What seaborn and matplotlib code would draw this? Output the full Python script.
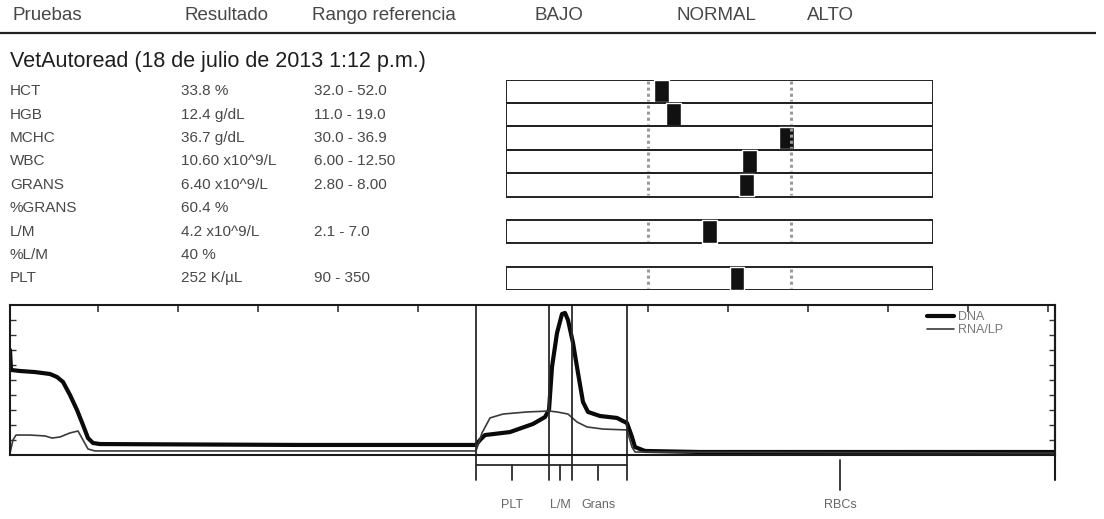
import numpy as np
import pandas as pd
import matplotlib
matplotlib.use("Agg")
import matplotlib.pyplot as plt
import seaborn as sns
from matplotlib.lines import Line2D

# ---------------- data ----------------
header_cols = ["Pruebas", "Resultado", "Rango referencia", "BAJO", "NORMAL", "ALTO"]
report_title = "VetAutoread (18 de julio de 2013 1:12 p.m.)"
tests = ["HCT", "HGB", "MCHC", "WBC", "GRANS", "%GRANS", "L/M", "%L/M", "PLT"]
results = ["33.8 %", "12.4 g/dL", "36.7 g/dL", "10.60 x10^9/L", "6.40 x10^9/L",
           "60.4 %", "4.2 x10^9/L", "40 %", "252 K/\u00b5L"]
values = [33.8, 12.4, 36.7, 10.60, 6.40, None, 4.2, None, 252]
ref_low = [32.0, 11.0, 30.0, 6.00, 2.80, None, 2.1, None, 90]
ref_high = [52.0, 19.0, 36.9, 12.50, 8.00, None, 7.0, None, 350]
ref_text = ["32.0 - 52.0", "11.0 - 19.0", "30.0 - 36.9", "6.00 - 12.50", "2.80 - 8.00",
            "", "2.1 - 7.0", "", "90 - 350"]

# histogram (channel, relative height %)
dna_ch = [0, 1, 10, 25, 40, 47, 53, 60, 67, 73, 78, 83, 90, 190, 290, 466, 470, 475, 500,
          523, 535, 539, 542, 547, 552, 555, 558, 563, 568, 573, 578, 590, 607, 617, 622,
          625, 635, 690, 1045]
dna_val = [70, 56.7, 56, 55.3, 54, 52, 48.7, 40, 30, 20, 11.3, 8, 7.3, 7, 6.7, 6.7, 10, 13.3,
           15.3, 20.7, 25.3, 30, 58.7, 81.3, 94, 94.7, 90, 74.7, 54.7, 35.3, 28.7, 26, 24.7,
           21.3, 12, 5.3, 2.7, 2, 2]
rna_ch = [0, 3, 6, 20, 35, 42, 50, 60, 68, 73, 78, 85, 466, 472, 480, 493, 517, 539, 547,
          558, 567, 577, 593, 617, 622, 625, 1045]
rna_val = [1.3, 10, 13.3, 13.3, 12.7, 11.3, 12, 14.7, 16, 10, 4, 2.7, 2.7, 14.7, 24.7, 27.3,
           28.7, 29.3, 28.7, 27.3, 22, 18.7, 17.3, 16.7, 5.3, 2, 1.3]
series_names = ["DNA", "RNA/LP"]
gates = [466, 539, 562, 617]
region_labels = ["PLT", "L/M", "Grans", "RBCs"]
region_pos = [502, 550, 588, 830]

# ---------------- style ----------------
sns.set_style("white")
plt.rcParams['font.family'] = ['Liberation Sans', 'DejaVu Sans']

W, H = 1104, 519
fig = plt.figure(figsize=(W / 100, H / 100), dpi=100)
fig.patch.set_facecolor("white")

def frac(x0, y0, x1, y1):
    return [x0 / W, 1 - y1 / H, (x1 - x0) / W, (y1 - y0) / H]

# background axes in pixel coordinates for the table text
bg = fig.add_axes([0, 0, 1, 1], zorder=0)
bg.set_xlim(0, W)
bg.set_ylim(H, 0)
bg.axis("off")

txt_col = "#484848"
head_x = [12, 185, 312, 535, 677, 807]
for name, x in zip(header_cols, head_x):
    bg.text(x, 16, name, fontsize=13.5, color="#474747", va="center", ha="left")
bg.plot([0, 1096], [33, 33], color="#222222", lw=1.6, solid_capstyle="butt")
bg.text(10, 61, report_title, fontsize=15.5, color="#1e1e1e", va="center", ha="left")

row_top, row_h = 79.5, 23.4
for i, (t, r, rt) in enumerate(zip(tests, results, ref_text)):
    yc = row_top + (i + 0.5) * row_h
    bg.text(10, yc, t, fontsize=11, color=txt_col, va="center")
    bg.text(181, yc, r, fontsize=11, color=txt_col, va="center")
    bg.text(314, yc, rt, fontsize=11, color=txt_col, va="center")

# ---------------- range bars ----------------
axb = fig.add_axes(frac(506, row_top, 933, row_top + 9 * row_h), zorder=2)
axb.set_xlim(-1, 2)
axb.set_ylim(9, 0)
axb.axis("off")
mw = 0.105
for i, (v, lo, hi) in enumerate(zip(values, ref_low, ref_high)):
    if v is None:
        continue
    axb.barh(i + 0.5, 3, left=-1, height=1, fill=False, edgecolor="#222222", linewidth=1.4)
    axb.vlines([0, 1], i + 0.08, i + 0.92, colors="#9a9a9a", linestyles=(0, (1, 1)), lw=2.2)
    norm = (v - lo) / (hi - lo)
    axb.barh(i + 0.5, mw, left=norm - mw / 2, height=0.96, color="#111111")

# ---------------- histogram ----------------
axh = fig.add_axes(frac(10, 305, 1055, 455), zorder=2)
df = pd.concat([
    pd.DataFrame({"ch": dna_ch, "val": dna_val, "serie": series_names[0]}),
    pd.DataFrame({"ch": rna_ch, "val": rna_val, "serie": series_names[1]}),
])
sns.lineplot(data=df, x="ch", y="val", hue="serie", size="serie",
             sizes={series_names[0]: 3.0, series_names[1]: 1.2},
             palette={series_names[0]: "#0a0a0a", series_names[1]: "#3a3a3a"},
             estimator=None, legend=False, ax=axh)
axh.set_xlim(0, 1045)
axh.set_ylim(0, 100)
axh.set_xlabel("")
axh.set_ylabel("")
for s in axh.spines.values():
    s.set_color("#1a1a1a")
    s.set_linewidth(1.5)
    s.set_visible(True)

top_ticks = list(np.arange(88, 420, 80)) + list(np.arange(638, 1040, 80))
axh.set_xticks(top_ticks)
axh.tick_params(axis="x", which="both", bottom=False, top=True, labelbottom=False,
                direction="in", length=5, width=1.2, color="#333333")
axh.set_yticks(np.arange(10, 100, 10))
axh.tick_params(axis="y", which="both", left=True, right=True, labelleft=False,
                direction="in", length=4, width=1.0, color="#333333")

ext = -25 / 150
for g in gates:
    axh.axvline(g, ymin=ext, ymax=1, clip_on=False, color="#2a2a2a", lw=1.3)
axh.axvline(1045, ymin=ext, ymax=1, clip_on=False, color="#1a1a1a", lw=1.5)

yb = -10 / 150 * 100
axh.plot([gates[0], gates[-1]], [yb, yb], color="#2a2a2a", lw=1.3, clip_on=False)
for lab, pos in zip(region_labels, region_pos):
    if lab == "RBCs":
        axh.plot([pos, pos], [-3, -23], color="#2a2a2a", lw=1.3, clip_on=False)
    else:
        axh.plot([pos, pos], [yb, -16.7], color="#2a2a2a", lw=1.3, clip_on=False)
    axh.text(pos, -33.3, lab, fontsize=9, color="#666666", ha="center", va="center",
             clip_on=False)

handles = [Line2D([], [], color="#0a0a0a", lw=3.0), Line2D([], [], color="#3a3a3a", lw=1.2)]
leg = axh.legend(handles, series_names, loc="upper right",
                 bbox_to_anchor=((1003 - 10) / 1045, (455 - 311) / 150),
                 frameon=False, fontsize=9, handlelength=2.2, handletextpad=0.3,
                 labelspacing=0.1, borderpad=0, borderaxespad=0)
for t in leg.get_texts():
    t.set_color("#777777")

fig.savefig("out.png", dpi=100, facecolor="white")
